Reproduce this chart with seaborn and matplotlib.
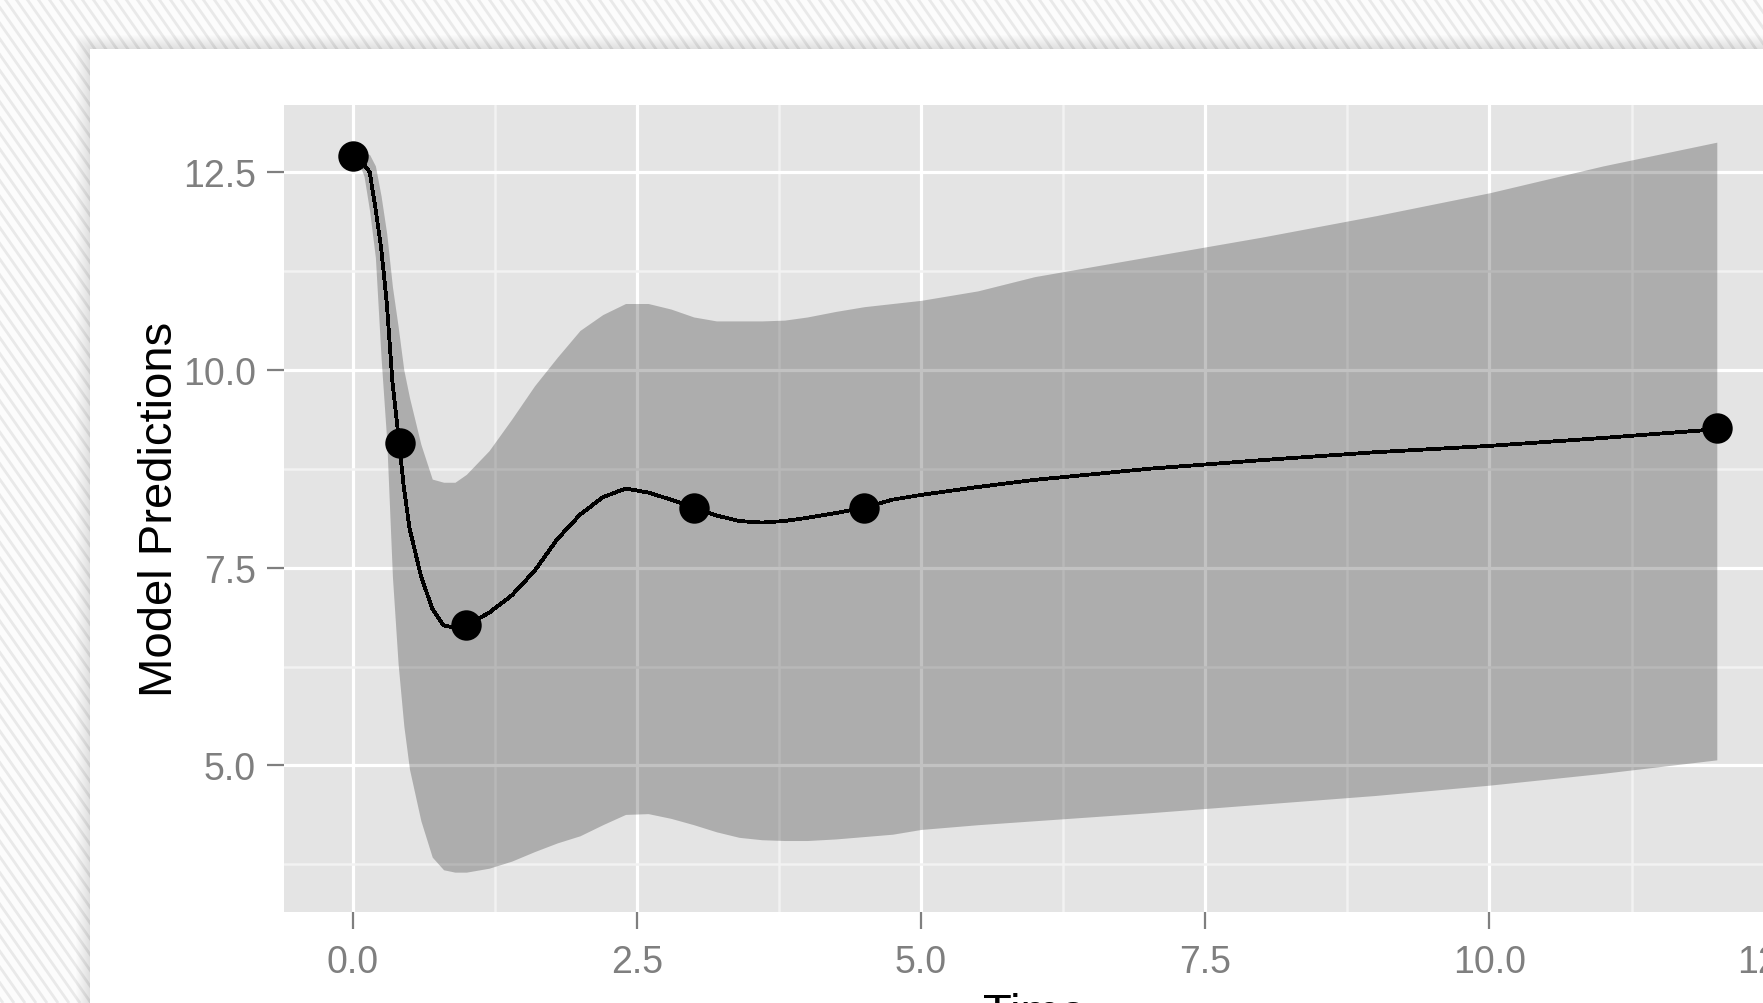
import numpy as np
import matplotlib
matplotlib.use("Agg")
import matplotlib.pyplot as plt
import seaborn as sns
from matplotlib.patches import Rectangle
from matplotlib.collections import LineCollection
from matplotlib.ticker import FixedLocator

# Model prediction curve with its interval band
time = [0, 0.05, 0.1, 0.15, 0.2, 0.25, 0.3, 0.35, 0.4, 0.45, 0.5, 0.6, 0.7, 0.8,
        0.9, 1.0, 1.2, 1.4, 1.6, 1.8, 2.0, 2.2, 2.4, 2.6, 2.8, 3.0, 3.2, 3.4,
        3.6, 3.8, 4.0, 4.25, 4.5, 4.75, 5.0, 5.5, 6.0, 7.0, 8.0, 9.0, 10.0,
        11.0, 12.0]
pred = [12.71, 12.68, 12.60, 12.50, 12.05, 11.55, 10.85, 9.85, 9.20, 8.52, 8.00,
        7.40, 6.98, 6.77, 6.74, 6.77, 6.93, 7.15, 7.46, 7.86, 8.17, 8.39, 8.50,
        8.45, 8.36, 8.26, 8.16, 8.09, 8.07, 8.09, 8.13, 8.19, 8.26, 8.36, 8.42,
        8.52, 8.61, 8.75, 8.86, 8.96, 9.04, 9.14, 9.25]
lower = [12.71, 12.64, 12.45, 12.00, 11.42, 10.15, 9.10, 7.38, 6.28, 5.50, 4.95,
         4.30, 3.84, 3.68, 3.65, 3.65, 3.70, 3.79, 3.91, 4.02, 4.11, 4.25, 4.38,
         4.39, 4.33, 4.25, 4.16, 4.09, 4.06, 4.05, 4.05, 4.07, 4.10, 4.13, 4.19,
         4.25, 4.30, 4.40, 4.51, 4.62, 4.75, 4.90, 5.07]
upper = [12.71, 12.74, 12.76, 12.72, 12.58, 12.20, 11.72, 11.05, 10.55, 10.00,
         9.65, 9.06, 8.62, 8.58, 8.58, 8.68, 8.98, 9.38, 9.80, 10.16, 10.50,
         10.70, 10.84, 10.84, 10.77, 10.67, 10.62, 10.62, 10.62, 10.63, 10.67,
         10.74, 10.80, 10.84, 10.88, 11.00, 11.18, 11.43, 11.68, 11.95, 12.24,
         12.58, 12.88]

# Observed concentrations
obs_time = [0, 0.42, 1, 3, 4.5, 12]
obs_value = [12.71, 9.07, 6.77, 8.26, 8.25, 9.26]

x_ticks = [0.0, 2.5, 5.0, 7.5, 10.0, 12.5]
x_tick_labels = ["0.0", "2.5", "5.0", "7.5", "10.0", "12.5"]
y_ticks = [5.0, 7.5, 10.0, 12.5]
y_tick_labels = ["5.0", "7.5", "10.0", "12.5"]
x_minor = [1.25, 3.75, 6.25, 8.75, 11.25]
y_minor = [3.75, 6.25, 8.75, 11.25]
x_label = "Time"
y_label = "Model Predictions"

sns.set_theme(style="darkgrid")
plt.rcParams['font.family'] = ['Liberation Sans', 'DejaVu Sans']

W, H = 1763, 1004
fig = plt.figure(figsize=(W / 100, H / 100), dpi=100)

# Striped page backdrop with a white card on top
bg = fig.add_axes([0, 0, 1, 1], zorder=-10)
bg.set_xlim(0, W)
bg.set_ylim(H, 0)
bg.axis('off')
bg.add_patch(Rectangle((0, 0), W, H, facecolor='#FCFCFC', edgecolor='none',
                       zorder=0))
slope = 1.43
spacing = 11
segs = [[(x0, 0), (x0 + H / slope, H)]
        for x0 in np.arange(-H / slope - 30, W + 30, spacing)]
bg.add_collection(LineCollection(segs, colors='#E9E9E9', linewidths=2.0,
                                 zorder=1))
card_x, card_y = 90, 50
for d in range(14, 0, -1):
    bg.add_patch(Rectangle((card_x - d, card_y - d), W, H,
                           facecolor='black', alpha=0.006, edgecolor='none',
                           zorder=2))
bg.add_patch(Rectangle((card_x, card_y), W, H, facecolor='white',
                       edgecolor='none', zorder=3))

# Plot panel (extends past the right edge of the card)
p_left, p_right, p_top, p_bottom = 284, 1785, 106, 912.7
ax = fig.add_axes([p_left / W, 1 - p_bottom / H,
                   (p_right - p_left) / W, (p_bottom - p_top) / H])
ax.set_facecolor('#E4E4E4')
for s in ax.spines.values():
    s.set_visible(False)

ax.fill_between(time, lower, upper, color='black', alpha=0.24,
                linewidth=0, antialiased=False, zorder=2)
sns.lineplot(x=time, y=pred, ax=ax, color='black', linewidth=2.0,
             antialiased=False, zorder=3, sort=False)
sns.scatterplot(x=obs_time, y=obs_value, ax=ax, color='black', s=480,
                linewidth=0, zorder=4)

ax.set_xlim(-0.604, 12.60)
ax.set_ylim(3.15, 13.35)
ax.xaxis.set_major_locator(FixedLocator(x_ticks))
ax.yaxis.set_major_locator(FixedLocator(y_ticks))
ax.xaxis.set_minor_locator(FixedLocator(x_minor))
ax.yaxis.set_minor_locator(FixedLocator(y_minor))
ax.set_xticklabels(x_tick_labels)
ax.set_yticklabels(y_tick_labels)

ax.grid(which='major', color='white', linewidth=2.3)
ax.grid(which='minor', color='#F2F2F2', linewidth=1.8)
ax.set_axisbelow(True)

ax.tick_params(which='major', length=12.2, width=1.6, color='#7F7F7F',
               labelsize=27, labelcolor='#7F7F7F', bottom=True, left=True)
ax.tick_params(axis='x', which='major', pad=11)
ax.tick_params(axis='y', which='major', pad=8)
ax.tick_params(which='minor', length=0)

ax.set_xlabel(x_label, fontsize=34, color='black')
ax.set_ylabel(y_label, fontsize=34, color='black')
ax.xaxis.set_label_coords(0.5, -0.0995)
ax.yaxis.set_label_coords(-0.068, 0.5)

fig.savefig("out.png", dpi=100)
